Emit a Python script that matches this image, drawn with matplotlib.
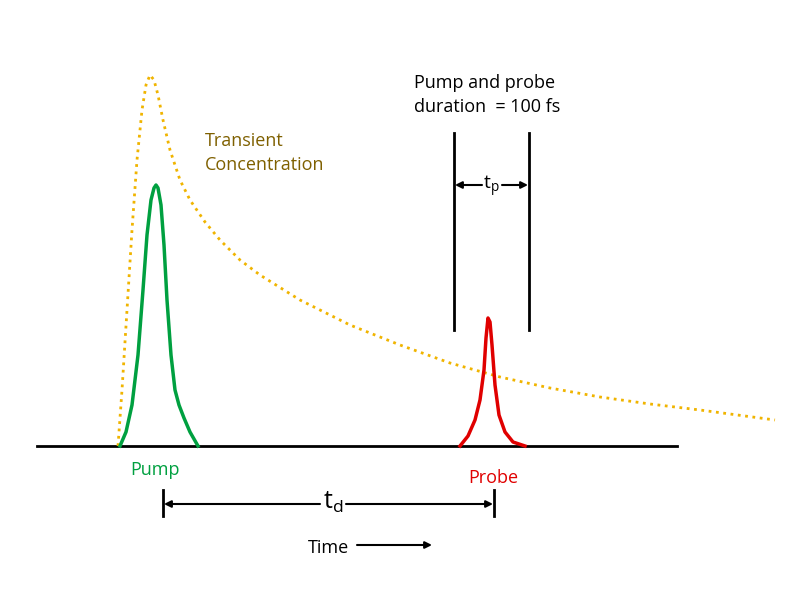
import matplotlib.pyplot as plt

# curve samples in picture coordinates (x to the right, y downward)
conc_x = [118, 122, 127, 132, 137, 142, 146, 150, 154, 158, 163, 170, 180, 190, 205, 220, 240, 260, 300, 350, 400, 450, 500, 550, 600, 650, 700, 775]
conc_y = [446, 390, 310, 230, 160, 110, 85, 75, 80, 95, 120, 150, 180, 200, 222, 240, 260, 275, 300, 325, 345, 363, 377, 388, 397, 404, 410, 420]
pump_x = [120, 126, 132, 138, 143, 147, 151, 154, 156, 158, 161, 164, 167, 171, 175, 179, 184, 190, 198]
pump_y = [446, 432, 405, 355, 290, 235, 200, 188, 185, 188, 205, 245, 300, 355, 390, 405, 418, 432, 446]
probe_x = [460, 468, 475, 480, 484, 486, 488, 490, 492, 495, 499, 505, 513, 525]
probe_y = [446, 436, 420, 400, 370, 338, 318, 322, 345, 385, 415, 432, 442, 446]

fig = plt.figure(figsize=(8, 5.97), dpi=100)
ax = fig.add_axes([0, 0, 1, 1])
ax.set_xlim(0, 800)
ax.set_ylim(597, 0)
ax.axis('off')

ax.plot([37, 677], [446, 446], color='black', lw=2)
ax.plot(conc_x, conc_y, color='#F0B400', lw=2, ls=':')
ax.plot(pump_x, pump_y, color='#00A040', lw=2.5)
ax.plot(probe_x, probe_y, color='#E00000', lw=2.5)

# probe duration window
for xv in [454, 529]:
    ax.plot([xv, xv], [133, 330], color='black', lw=2)
ax.annotate('', xy=(455, 185), xytext=(482, 185),
            arrowprops=dict(arrowstyle='-|>', color='black', lw=1.5, shrinkA=0, shrinkB=0))
ax.annotate('', xy=(528, 185), xytext=(502, 185),
            arrowprops=dict(arrowstyle='-|>', color='black', lw=1.5, shrinkA=0, shrinkB=0))
ax.text(491, 186, '$\\mathregular{t_p}$', fontsize=14, ha='center', va='center', family='Open Sans')

# delay arrow
for xv in [163, 494]:
    ax.plot([xv, xv], [490, 516], color='black', lw=2)
ax.annotate('', xy=(164, 504), xytext=(320, 504),
            arrowprops=dict(arrowstyle='-|>', color='black', lw=1.5, shrinkA=0, shrinkB=0))
ax.annotate('', xy=(493, 504), xytext=(346, 504),
            arrowprops=dict(arrowstyle='-|>', color='black', lw=1.5, shrinkA=0, shrinkB=0))
ax.text(333, 502, '$\\mathregular{t_d}$', fontsize=18, ha='center', va='center', family='Open Sans')

ax.text(329, 548, 'Time', fontsize=13, ha='center', va='center', family='Open Sans')
ax.annotate('', xy=(432, 545), xytext=(357, 545),
            arrowprops=dict(arrowstyle='-|>', color='black', lw=1.5, shrinkA=0, shrinkB=0))

ax.text(155, 470, 'Pump', color='#00A040', fontsize=13, ha='center', va='center', family='Open Sans')
ax.text(493, 478, 'Probe', color='#E00000', fontsize=13, ha='center', va='center', family='Open Sans')
ax.text(205, 153, 'Transient\nConcentration', color='#7F6000', fontsize=13, ha='left', va='center',
        linespacing=1.5, family='Open Sans')
ax.text(414, 95, 'Pump and probe\nduration  = 100 fs', color='black', fontsize=13, ha='left',
        va='center', linespacing=1.5, family='Open Sans')

fig.savefig('out.png', dpi=100)
